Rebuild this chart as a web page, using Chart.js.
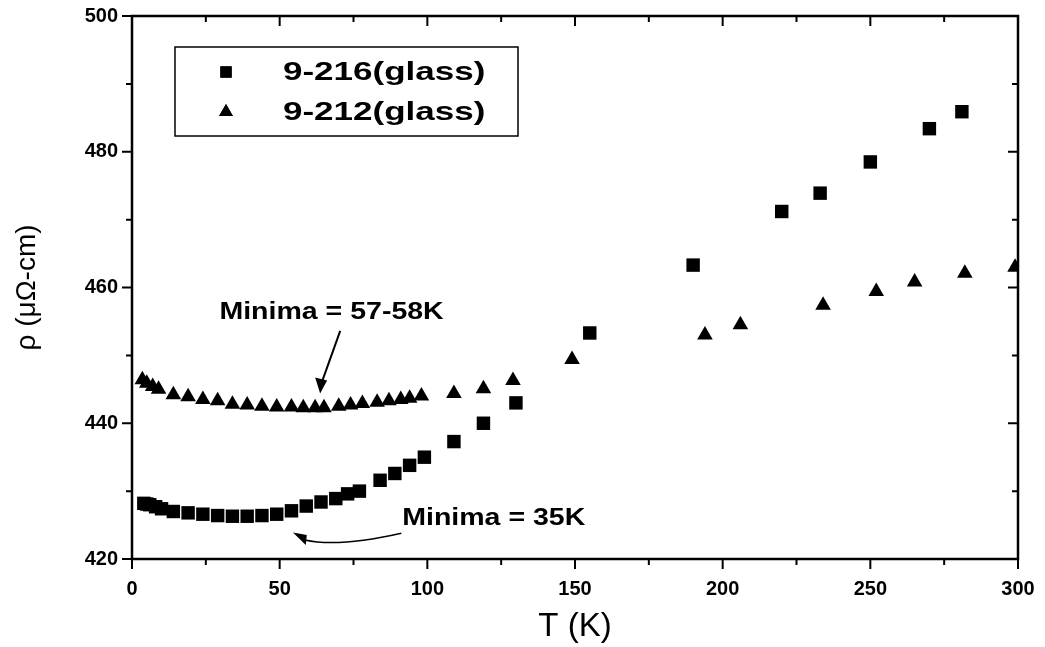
<!DOCTYPE html>
<html>
<head>
<meta charset="utf-8">
<script src="https://cdn.jsdelivr.net/npm/chart.js@4.4.1/dist/chart.umd.min.js"></script>
<style>
  html, body { margin: 0; padding: 0; background: #fff; }
  #wrap { width: 1045px; height: 647px; }
</style>
</head>
<body>
<div id="wrap"><canvas id="rhoChart"></canvas></div>
<script>
"use strict";
{
  // 9-216(glass), squares
  const temp216 = [4, 5, 6, 8, 10, 14, 19, 24, 29, 34, 39, 44, 49, 54, 59, 64, 69, 73, 77, 84, 89, 94, 99, 109, 119, 130, 155, 190, 220, 233, 250, 270, 281];
  const rho216 = [428.2, 428.1, 428.0, 427.7, 427.4, 427.0, 426.8, 426.6, 426.4, 426.3, 426.3, 426.4, 426.6, 427.1, 427.8, 428.4, 428.9, 429.6, 430.0, 431.6, 432.6, 433.8, 435.0, 437.3, 440.0, 443.0, 453.3, 463.3, 471.2, 473.9, 478.5, 483.4, 485.9];

  // 9-212(glass), triangles
  const temp212 = [3.5, 5, 7, 9, 14, 19, 24, 29, 34, 39, 44, 49, 54, 58, 62, 65, 70, 74, 78, 83, 87, 91, 94, 98, 109, 119, 129, 149, 194, 206, 234, 252, 265, 282, 299];
  const rho212 = [446.4, 445.9, 445.4, 445.0, 444.2, 443.9, 443.5, 443.3, 442.8, 442.7, 442.5, 442.4, 442.4, 442.3, 442.3, 442.3, 442.5, 442.7, 442.9, 443.1, 443.3, 443.5, 443.7, 444.0, 444.4, 445.1, 446.3, 449.4, 453.0, 454.5, 457.4, 459.4, 460.8, 462.1, 463.0];

  const seriesNames = ["9-216(glass)", "9-212(glass)"];
  const xRange = [0, 300];
  const yRange = [420, 500];
  const xMajor = 50, xMinor = 25;
  const yMajor = 20, yMinor = 10;

  const toPoints = (xs, ys) => xs.map((x, i) => ({ x: x, y: ys[i] }));

  // notes, placed in data units
  const noteUpper = { text: "Minima = 57-58K", x: 29.6, y: 456.3, from: [70.5, 453.6], to: [63.7, 444.4] };
  const noteLower = { text: "Minima = 35K", x: 91.5, y: 426.0, from: [91.2, 423.8], ctrl: [70, 421.7], to: [58.5, 422.8], tip: [54.5, 423.9] };

  const bold = "'Liberation Sans', Arial, sans-serif";

  // box, ticks (out on bottom/left, in on top/right), legend and notes
  const framePlugin = {
    id: "frame",
    afterDraw(chart) {
      const ctx = chart.ctx;
      const xs = chart.scales.x, ys = chart.scales.y;
      const a = chart.chartArea;
      ctx.save();
      ctx.strokeStyle = "#000";
      ctx.lineWidth = 2.5;
      ctx.strokeRect(a.left, a.top, a.right - a.left, a.bottom - a.top);

      ctx.lineWidth = 2;
      ctx.beginPath();
      for (let v = xRange[0]; v <= xRange[1]; v += xMinor) {
        const len = v % xMajor === 0 ? 10 : 6;
        const px = xs.getPixelForValue(v);
        ctx.moveTo(px, a.bottom); ctx.lineTo(px, a.bottom + len);
        ctx.moveTo(px, a.top); ctx.lineTo(px, a.top + len);
      }
      for (let v = yRange[0]; v <= yRange[1]; v += yMinor) {
        const len = v % yMajor === 0 ? 10 : 6;
        const py = ys.getPixelForValue(v);
        ctx.moveTo(a.left, py); ctx.lineTo(a.left - len, py);
        ctx.moveTo(a.right, py); ctx.lineTo(a.right - len, py);
      }
      ctx.stroke();

      // legend
      ctx.lineWidth = 1.5;
      ctx.strokeRect(175, 47, 343, 89);
      ctx.fillStyle = "#000";
      const rows = [72, 112];
      chart.data.datasets.forEach((ds, i) => {
        Chart.helpers.drawPoint(ctx, { pointStyle: ds.pointStyle, radius: 8, borderWidth: 0 }, 226, rows[i]);
        ctx.fill();
        ctx.save();
        ctx.translate(283, rows[i]);
        ctx.scale(1.4, 1);
        ctx.font = "bold 25px " + bold;
        ctx.textBaseline = "middle";
        ctx.fillText(ds.label, 0, 1);
        ctx.restore();
      });

      // notes
      [noteUpper, noteLower].forEach((n) => {
        ctx.save();
        ctx.translate(xs.getPixelForValue(n.x), ys.getPixelForValue(n.y));
        ctx.scale(1.24, 1);
        ctx.font = "bold 23px " + bold;
        ctx.textBaseline = "middle";
        ctx.fillText(n.text, 0, 0);
        ctx.restore();
      });

      const P = (p) => [xs.getPixelForValue(p[0]), ys.getPixelForValue(p[1])];
      // straight arrow
      let s = P(noteUpper.from), e = P(noteUpper.to);
      ctx.lineWidth = 2;
      ctx.beginPath();
      ctx.moveTo(s[0], s[1]);
      ctx.lineTo(e[0] + 2, e[1] - 12);
      ctx.stroke();
      ctx.beginPath();
      ctx.moveTo(e[0], e[1]);
      ctx.lineTo(e[0] - 5, e[1] - 16);
      ctx.lineTo(e[0] + 7, e[1] - 13);
      ctx.closePath();
      ctx.fill();

      // curved arrow
      s = P(noteLower.from);
      const c = P(noteLower.ctrl);
      e = P(noteLower.to);
      const t = P(noteLower.tip);
      ctx.lineWidth = 1.5;
      ctx.beginPath();
      ctx.moveTo(s[0], s[1]);
      ctx.quadraticCurveTo(c[0], c[1], e[0], e[1]);
      ctx.stroke();
      ctx.beginPath();
      ctx.moveTo(t[0], t[1]);
      ctx.lineTo(e[0] + 2, e[1] - 5);
      ctx.lineTo(e[0] + 1, e[1] + 5);
      ctx.closePath();
      ctx.fill();
      ctx.restore();
    }
  };

  const canvas = document.getElementById("rhoChart");
  const rhoChart = new Chart(canvas, {
    type: "scatter",
    data: {
      datasets: [
        {
          label: seriesNames[0],
          data: toPoints(temp216, rho216),
          pointStyle: "rect",
          pointRadius: 9.5,
          pointHoverRadius: 9.5,
          backgroundColor: "#000",
          borderColor: "#000",
          borderWidth: 0,
        },
        {
          label: seriesNames[1],
          data: toPoints(temp212, rho212),
          pointStyle: "triangle",
          pointRadius: 9,
          pointHoverRadius: 9,
          backgroundColor: "#000",
          borderColor: "#000",
          borderWidth: 0,
        },
      ],
    },
    options: {
      responsive: true,
      maintainAspectRatio: false,
      animation: false,
      devicePixelRatio: 1,
      layout: { padding: { top: 16, right: 27, left: 0, bottom: 0 } },
      plugins: {
        legend: { display: false },
        tooltip: { enabled: false },
      },
      scales: {
        x: {
          type: "linear",
          min: xRange[0],
          max: xRange[1],
          afterFit: (scale) => {
            scale.height = 88;
            scale.paddingLeft = 0;
            scale.paddingRight = 0;
          },
          grid: { display: false, drawTicks: false },
          border: { display: false },
          ticks: {
            stepSize: xMajor,
            color: "#000",
            padding: 18,
            maxRotation: 0,
            font: { family: bold, size: 20, weight: "bold" },
          },
          title: {
            display: true,
            text: "T (K)",
            color: "#000",
            font: { family: bold, size: 33 },
            padding: { top: 0, bottom: 0 },
          },
        },
        y: {
          type: "linear",
          min: yRange[0],
          max: yRange[1],
          afterFit: (scale) => {
            scale.width = 132;
            scale.paddingTop = 0;
            scale.paddingBottom = 0;
          },
          grid: { display: false, drawTicks: false },
          border: { display: false },
          ticks: {
            stepSize: yMajor,
            color: "#000",
            padding: 14,
            font: { family: bold, size: 20, weight: "bold" },
          },
          title: {
            display: true,
            text: "ρ (μΩ-cm)",
            color: "#000",
            font: { family: bold, size: 28 },
            padding: { top: 10, bottom: 0 },
          },
        },
      },
    },
    plugins: [framePlugin],
  });
}
</script>
</body>
</html>
